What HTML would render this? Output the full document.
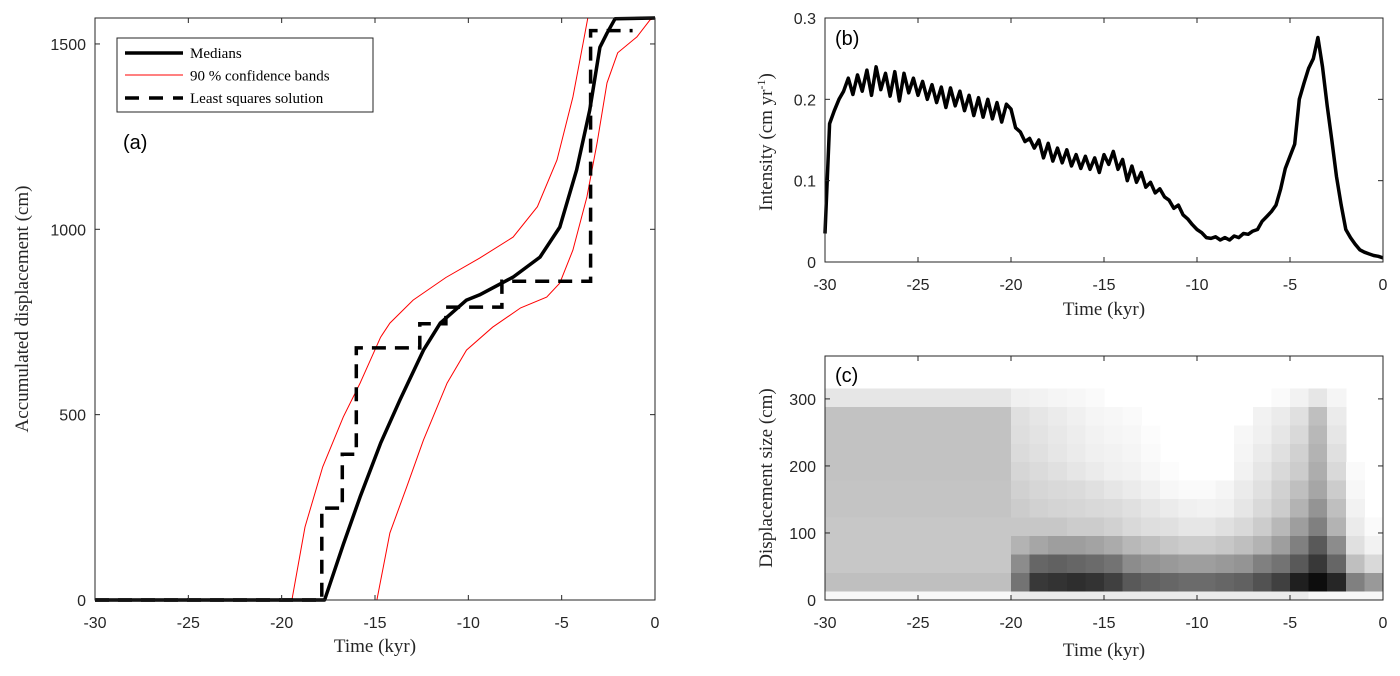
<!DOCTYPE html>
<html><head><meta charset="utf-8"><style>
body{margin:0;background:#fff}
svg text{font-family:"Liberation Sans",sans-serif}
.serif{font-family:"Liberation Serif",serif}
</style></head><body>
<svg id="fig" width="1400" height="671" viewBox="0 0 1400 671" xmlns="http://www.w3.org/2000/svg">
<g id="pa"></g>
<g id="pb"></g>
<g id="pc"></g>
</svg>
<script>
// ---- Panel (a) data ----
const medX=[-30,-17.7,-16.7,-15.8,-14.7,-13.66,-12.4,-11.5,-10.1,-9.4,-7.6,-6.16,-5.1,-4.2,-3.5,-2.95,-2.57,-2.14,0];
const medY=[0,0,150,278,423,540,674,747,809,823,871,925,1006,1160,1321,1491,1529,1568,1570];
const upX=[-30,-19.45,-18.75,-17.8,-16.7,-15.8,-14.7,-14.2,-12.96,-11.2,-9.4,-7.6,-6.3,-5.25,-4.4,-3.85,-3.6,0];
const upY=[0,0,197,359,494,585,709,747,809,870,922,979,1061,1187,1357,1502,1570,1570];
const loX=[-30,-14.9,-14.2,-13.3,-12.4,-11.14,-10.1,-8.7,-7.2,-5.8,-5.1,-4.4,-3.65,-3.1,-2.57,-2.0,-0.97,-0.27,0];
const loY=[0,0,181,305,432,585,674,736,788,817,855,944,1087,1233,1395,1476,1519,1565,1570];
const lsStepX=[-17.85,-16.75,-16.0,-12.6,-11.2,-8.2,-3.45];
const lsLevels=[248,393,680,745,790,860,1536];
const lsEnd=-1.2;
const aXTicks=[-30,-25,-20,-15,-10,-5,0];
const aYTicks=[0,500,1000,1500];
// ---- Panel (b) data ----
const intTime0=-30, intStep=0.25;
const intensity=[.035,.170,.186,.200,.210,.226,.206,.230,.210,.236,.205,.240,.212,.232,.204,.234,.198,.232,.208,.226,.205,.222,.200,.218,.196,.215,.190,.214,.192,.210,.186,.205,.180,.202,.178,.200,.176,.196,.172,.194,.188,.165,.160,.148,.152,.140,.150,.128,.146,.124,.140,.122,.138,.118,.132,.115,.130,.114,.128,.110,.132,.120,.136,.114,.126,.100,.118,.098,.110,.092,.098,.085,.090,.080,.076,.066,.070,.058,.053,.046,.040,.036,.030,.029,.031,.027,.030,.027,.032,.030,.035,.034,.038,.040,.050,.056,.062,.070,.090,.115,.130,.145,.200,.220,.238,.250,.276,.240,.192,.150,.105,.070,.040,.030,.022,.015,.012,.010,.008,.007,.005];
const bXTicks=[-30,-25,-20,-15,-10,-5,0];
const bYTicks=[0,0.1,0.2,0.3];
// ---- Panel (c) data ----
const hmColStart=-30, hmColWidth=1;
const hmRowEdges=[0,13,40.5,68,95.5,123,150.5,178,205.5,233,260.5,288,315.5];
const hmRow0=[.03,.03,.03,.03,.03,.03,.03,.03,.03,.03,.08,.08,.08,.08,.08,.08,.08,.08,.08,.08,.08,.08,.08,.08,.08,.08,.03,.03,.03,.03];
const hmRow1=[.25,.25,.25,.25,.25,.25,.25,.25,.25,.25,.55,.78,.8,.82,.8,.75,.65,.62,.6,.58,.58,.6,.62,.68,.75,.88,.95,.85,.5,.4];
const hmRow2=[.22,.22,.22,.22,.22,.22,.22,.22,.22,.22,.45,.6,.62,.6,.58,.55,.45,.42,.4,.38,.38,.4,.42,.5,.55,.65,.78,.6,.25,.15];
const hmRow3=[.22,.22,.22,.22,.22,.22,.22,.22,.22,.22,.3,.35,.38,.38,.36,.33,.28,.25,.22,.2,.2,.22,.25,.3,.38,.5,.65,.45,.12,.05];
const hmRow4=[.22,.22,.22,.22,.22,.22,.22,.22,.22,.22,.22,.22,.22,.2,.2,.18,.15,.13,.12,.1,.1,.12,.15,.2,.28,.38,.5,.3,.08,.02];
const hmRow5=[.23,.23,.23,.23,.23,.23,.23,.23,.23,.23,.2,.18,.17,.16,.15,.14,.12,.1,.08,.06,.05,.06,.1,.15,.2,.3,.42,.25,.05,0];
const hmRow6=[.23,.23,.23,.23,.23,.23,.23,.23,.23,.23,.18,.16,.15,.14,.12,.1,.08,.06,.03,.02,.02,.04,.08,.12,.18,.25,.35,.2,.03,0];
const hmRow7=[.24,.24,.24,.24,.24,.24,.24,.24,.24,.24,.16,.14,.12,.1,.08,.06,.05,.03,.01,0,0,0,.05,.1,.15,.2,.32,.15,.02,0];
const hmRow8=[.24,.24,.24,.24,.24,.24,.24,.24,.24,.24,.14,.12,.1,.08,.06,.05,.04,.02,0,0,0,0,.04,.08,.12,.18,.3,.12,0,0];
const hmRow9=[.24,.24,.24,.24,.24,.24,.24,.24,.24,.24,.13,.11,.09,.07,.05,.04,.03,.01,0,0,0,0,.03,.06,.1,.15,.28,.1,0,0];
const hmRow10=[.24,.24,.24,.24,.24,.24,.24,.24,.24,.24,.12,.1,.08,.06,.04,.03,.02,0,0,0,0,0,0,.05,.08,.12,.25,.08,0,0];
const hmRow11=[.1,.1,.1,.1,.1,.1,.1,.1,.1,.1,.06,.05,.04,.03,.02,0,0,0,0,0,0,0,0,0,.02,.05,.1,.04,0,0];
const cXTicks=[-30,-25,-20,-15,-10,-5,0];
const cYTicks=[0,100,200,300];

const NS="http://www.w3.org/2000/svg";
function mk(parent,tag,attrs,txt){const e=document.createElementNS(NS,tag);for(const k in attrs)e.setAttribute(k,attrs[k]);if(txt!==undefined)e.textContent=txt;parent.appendChild(e);return e;}
function lin(d0,d1,r0,r1){return v=>r0+(v-d0)*(r1-r0)/(d1-d0);}

function frame(g,L,T,R,B,xs,ys,xt,yt,yfmt){
  for(const t of xt){const x=xs(t);
    const a=mk(g,'line',{x1:x,x2:x,y1:B,y2:B-5,stroke:'#262626','stroke-width':1});
    
    mk(g,'line',{x1:x,x2:x,y1:T,y2:T+5,stroke:'#262626','stroke-width':1});
    const tl=mk(g,'text',{x:x,y:B+28,'text-anchor':'middle','font-size':16,fill:'#262626'},String(t));
    }
  for(const t of yt){const y=ys(t);
    mk(g,'line',{x1:L,x2:L+5,y1:y,y2:y,stroke:'#262626','stroke-width':1});
    mk(g,'line',{x1:R,x2:R-5,y1:y,y2:y,stroke:'#262626','stroke-width':1});
    const tl=mk(g,'text',{x:L-9,y:y+6,'text-anchor':'end','font-size':16,fill:'#262626'},yfmt(t));
    }
  const f=mk(g,'rect',{x:L,y:T,width:R-L,height:B-T,fill:'none',stroke:'#262626','stroke-width':1});
  
}
function pathFrom(xs,ys,X,Y){return X.map((v,i)=>(i?'L':'M')+xs(v).toFixed(1)+','+ys(Y[i]).toFixed(1)).join('');}

// Panel A
(function(){
  const g=document.getElementById('pa');
  const L=95,R=655,T=18,B=600;
  const xs=lin(-30,0,L,R), ys=lin(0,1570,B,T);
  const up=mk(g,'path',{d:pathFrom(xs,ys,upX,upY),fill:'none',stroke:'#ff0000','stroke-width':1});
  
  const lo=mk(g,'path',{d:pathFrom(xs,ys,loX,loY),fill:'none',stroke:'#ff0000','stroke-width':1});
  
  let d='M'+xs(-30)+','+ys(0);
  let prev=0;
  lsStepX.forEach((sx,i)=>{d+='L'+xs(sx).toFixed(1)+','+ys(prev).toFixed(1)+'L'+xs(sx).toFixed(1)+','+ys(lsLevels[i]).toFixed(1);prev=lsLevels[i];});
  d+='L'+xs(lsEnd).toFixed(1)+','+ys(prev).toFixed(1);
  const ls=mk(g,'path',{d:d,fill:'none',stroke:'#000','stroke-width':3.5,'stroke-dasharray':'14,9'});
  
  const md=mk(g,'path',{d:pathFrom(xs,ys,medX,medY),fill:'none',stroke:'#000','stroke-width':3.5,'stroke-linejoin':'round'});
  
  frame(g,L,T,R,B,xs,ys,aXTicks,aYTicks,String);
  const lg=mk(g,'g',{});
  
  mk(lg,'rect',{x:117,y:38,width:256,height:74,fill:'#fff',stroke:'#262626','stroke-width':1});
  mk(lg,'line',{x1:125,x2:183,y1:53,y2:53,stroke:'#000','stroke-width':3.5});
  mk(lg,'line',{x1:125,x2:183,y1:75,y2:75,stroke:'#f00','stroke-width':1});
  mk(lg,'line',{x1:125,x2:183,y1:98,y2:98,stroke:'#000','stroke-width':3.5,'stroke-dasharray':'14,10'});
  const names=['Medians','90 % confidence bands','Least squares solution'];
  names.forEach((n,i)=>{const t=mk(lg,'text',{x:190,y:58+i*22.5,'font-size':15,class:'serif',fill:'#000'},n);
    });
  const pl=mk(g,'text',{x:123,y:149,'font-size':20,fill:'#000'},'(a)');
  
  const xl=mk(g,'text',{x:375,y:652,'text-anchor':'middle','font-size':19,class:'serif',fill:'#262626'},'Time (kyr)');
  
  const yl=mk(g,'text',{x:0,y:0,'text-anchor':'middle','font-size':19,class:'serif',fill:'#262626',transform:'translate(28,309) rotate(-90)'},'Accumulated displacement (cm)');
  
})();

// Panel B
(function(){
  const g=document.getElementById('pb');
  const L=825,R=1383,T=18,B=262;
  const xs=lin(-30,0,L,R), ys=lin(0,0.3,B,T);
  const X=intensity.map((v,i)=>intTime0+i*intStep);
  const p=mk(g,'path',{d:pathFrom(xs,ys,X,intensity),fill:'none',stroke:'#000','stroke-width':3.5,'stroke-linejoin':'round'});
  
  frame(g,L,T,R,B,xs,ys,bXTicks,bYTicks,t=>t===0?'0':t.toFixed(1));
  const pl=mk(g,'text',{x:835,y:45,'font-size':20,fill:'#000'},'(b)');
  
  const xl=mk(g,'text',{x:1104,y:315,'text-anchor':'middle','font-size':19,class:'serif',fill:'#262626'},'Time (kyr)');
  
  const yl=mk(g,'text',{x:0,y:0,'text-anchor':'middle','font-size':19,class:'serif',fill:'#262626',transform:'translate(772,142) rotate(-90)'});
  
  yl.appendChild(document.createTextNode('Intensity (cm yr'));
  mk(yl,'tspan',{'font-size':12,dy:-7},'-1');
  mk(yl,'tspan',{dy:7},')');
})();

// Panel C
(function(){
  const g=document.getElementById('pc');
  const L=825,R=1383,T=356,B=600;
  const xs=lin(-30,0,L,R), ys=lin(0,364,B,T);
  const rows=[hmRow0,hmRow1,hmRow2,hmRow3,hmRow4,hmRow5,hmRow6,hmRow7,hmRow8,hmRow9,hmRow10,hmRow11];
  const hg=mk(g,'g',{'shape-rendering':'crispEdges'});
  
  rows.forEach((row,r)=>{row.forEach((v,c)=>{
    if(v<=0)return;
    const x0=xs(hmColStart+c*hmColWidth),x1=xs(hmColStart+(c+1)*hmColWidth);
    const y0=ys(hmRowEdges[r+1]),y1=ys(hmRowEdges[r]);
    const gv=Math.round(255*(1-v));
    const cell=mk(hg,'rect',{x:x0.toFixed(1),y:y0.toFixed(1),width:(x1-x0+0.6).toFixed(1),height:(y1-y0).toFixed(1),fill:`rgb(${gv},${gv},${gv})`});
    
    
  });});
  frame(g,L,T,R,B,xs,ys,cXTicks,cYTicks,String);
  const pl=mk(g,'text',{x:835,y:382,'font-size':20,fill:'#000'},'(c)');
  
  const xl=mk(g,'text',{x:1104,y:656,'text-anchor':'middle','font-size':19,class:'serif',fill:'#262626'},'Time (kyr)');
  
  const yl=mk(g,'text',{x:0,y:0,'text-anchor':'middle','font-size':19,class:'serif',fill:'#262626',transform:'translate(772,478) rotate(-90)'},'Displacement size (cm)');
  
})();
</script>
</body></html>
